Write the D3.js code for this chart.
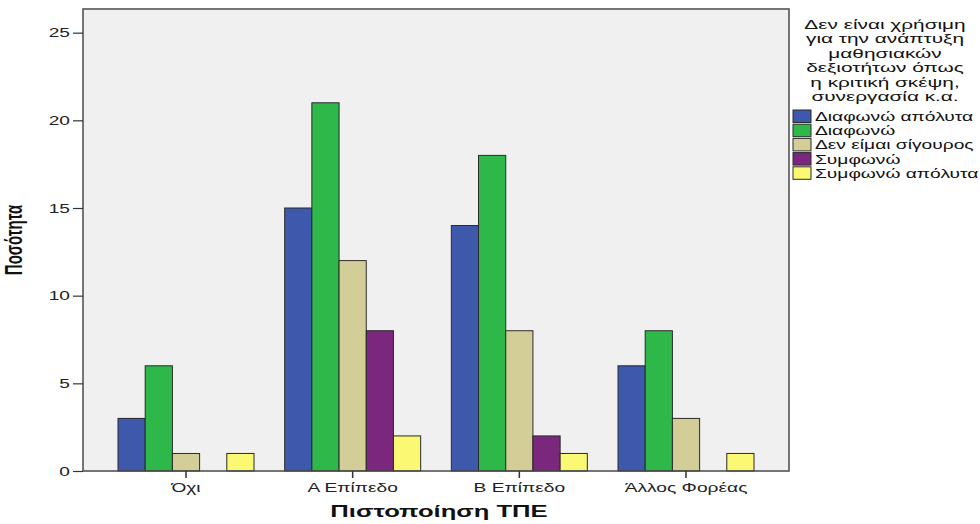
<!DOCTYPE html>
<html>
<head>
<meta charset="utf-8">
<script src="https://cdn.jsdelivr.net/npm/d3@7"></script>
<style>
  html, body { margin: 0; padding: 0; background: #ffffff; }
  svg { display: block; font-family: "Liberation Sans", Arial, sans-serif; }
</style>
</head>
<body>
<svg id="chart" width="980" height="524"></svg>
<script>
// Categories on the x axis
const categories = ["Όχι", "Α Επίπεδο", "Β Επίπεδο", "Άλλος Φορέας"];

// Answer groups (legend entries)
const seriesNames = ["Διαφωνώ απόλυτα", "Διαφωνώ", "Δεν είμαι σίγουρος", "Συμφωνώ", "Συμφωνώ απόλυτα"];

// Counts per answer group, one value per category
const diafonoApolyta  = [3, 15, 14, 6];
const diafono         = [6, 21, 18, 8];
const denEimaiSigouros = [1, 12, 8, 3];
const symfono         = [0, 8, 2, 0];
const symfonoApolyta  = [1, 2, 1, 1];

const yTicks = [0, 5, 10, 15, 20, 25];

const legendTitle = ["Δεν είναι χρήσιμη", "για την ανάπτυξη", "μαθησιακών",
                     "δεξιοτήτων όπως", "η κριτική σκέψη,", "συνεργασία κ.α."];
const xTitle = "Πιστοποίηση ΤΠΕ";
const yTitle = "Ποσότητα";

const seriesValues = [diafonoApolyta, diafono, denEimaiSigouros, symfono, symfonoApolyta];
const colors = ["#3E58AB", "#2EB84A", "#D3CE98", "#7B277D", "#FBF874"];

const svg = d3.select("#chart");

// Plot frame
const plot = { left: 83, right: 789, top: 9, bottom: 471 };

const x = d3.scaleBand()
  .domain(categories)
  .range([plot.left, plot.right])
  .paddingInner(0.184)
  .paddingOuter(0.21);

const xInner = d3.scaleBand()
  .domain(d3.range(seriesNames.length))
  .range([0, x.bandwidth()]);

const y = d3.scaleLinear()
  .domain([0, 26.35])
  .range([plot.bottom, plot.top]);

// Glyphs are drawn horizontally widened
const WIDEN = 1.6;

// Background
svg.append("rect")
  .attr("x", plot.left).attr("y", plot.top)
  .attr("width", plot.right - plot.left)
  .attr("height", plot.bottom - plot.top)
  .attr("fill", "#F0F0F0");

// Bars
const rows = categories.map((c, ci) => ({
  cat: c,
  vals: seriesValues.map((s, si) => ({ si, v: s[ci] }))
}));

const groups = svg.append("g").selectAll("g")
  .data(rows).join("g")
  .attr("transform", d => `translate(${x(d.cat)},0)`);

groups.selectAll("rect")
  .data(d => d.vals.filter(e => e.v > 0))
  .join("rect")
  .attr("x", d => xInner(d.si))
  .attr("y", d => y(d.v))
  .attr("width", xInner.bandwidth())
  .attr("height", d => y(0) - y(d.v))
  .attr("fill", d => colors[d.si])
  .attr("stroke", "#2a2a2a")
  .attr("stroke-width", 1);

// Frame
svg.append("rect")
  .attr("x", plot.left).attr("y", plot.top)
  .attr("width", plot.right - plot.left)
  .attr("height", plot.bottom - plot.top)
  .attr("fill", "none")
  .attr("stroke", "#4a4a4a")
  .attr("stroke-width", 1.5);

// Y axis
const yAxis = d3.axisLeft(y).tickValues(yTicks).tickSize(10).tickPadding(3).tickSizeOuter(0);
const yg = svg.append("g").attr("transform", `translate(${plot.left},0)`).call(yAxis);
yg.select(".domain").remove();
yg.selectAll(".tick line").attr("stroke", "#333").attr("stroke-width", 1.2);
yg.selectAll(".tick text")
  .attr("font-size", 13).attr("fill", "#222")
  .attr("font-family", "'Liberation Sans', Arial, sans-serif")
  .each(function() {
    const t = d3.select(this);
    const xx = +t.attr("x");
    t.attr("x", 0).attr("transform", `translate(${xx},0) scale(${WIDEN * 0.92},1)`);
  });

// X axis
const xAxis = d3.axisBottom(x).tickSize(7).tickPadding(5).tickSizeOuter(0);
const xg = svg.append("g").attr("transform", `translate(0,${plot.bottom})`).call(xAxis);
xg.select(".domain").remove();
xg.selectAll(".tick line").attr("stroke", "#333").attr("stroke-width", 1.5);
xg.selectAll(".tick text")
  .attr("font-size", 12).attr("fill", "#222")
  .attr("font-family", "'Liberation Sans', Arial, sans-serif")
  .attr("dy", "0.71em")
  .each(function() {
    const t = d3.select(this);
    const yy = +t.attr("y");
    t.attr("y", 0).attr("transform", `translate(0,${yy}) scale(${WIDEN},1)`);
  });

// Axis titles
svg.append("text")
  .attr("transform", `translate(${(plot.left + plot.right) / 2 + 3},517) scale(${WIDEN},1)`)
  .attr("text-anchor", "middle")
  .attr("font-size", 16).attr("font-weight", "bold").attr("fill", "#111")
  .text(xTitle);

svg.append("text")
  .attr("transform", `translate(22,${(plot.top + plot.bottom) / 2}) scale(${WIDEN},1) rotate(-90)`)
  .attr("text-anchor", "middle")
  .attr("font-size", 15).attr("font-weight", "bold").attr("fill", "#111")
  .text(yTitle);

// Legend
const legend = svg.append("g");
legend.selectAll("text.title")
  .data(legendTitle).join("text")
  .attr("class", "title")
  .attr("transform", (d, i) => `translate(885,${29 + i * 14.4}) scale(${WIDEN},1)`)
  .attr("text-anchor", "middle")
  .attr("font-size", 13).attr("fill", "#111")
  .text(d => d);

const items = legend.selectAll("g.item")
  .data(seriesNames).join("g")
  .attr("class", "item")
  .attr("transform", (d, i) => `translate(793,${110 + i * 14.2})`);

items.append("rect")
  .attr("width", 18).attr("height", 12.5)
  .attr("fill", (d, i) => colors[i])
  .attr("stroke", "#2a2a2a").attr("stroke-width", 1);

items.append("text")
  .attr("transform", `translate(22,11) scale(${WIDEN},1)`)
  .attr("font-size", 12).attr("fill", "#111")
  .text(d => d);
</script>
</body>
</html>
